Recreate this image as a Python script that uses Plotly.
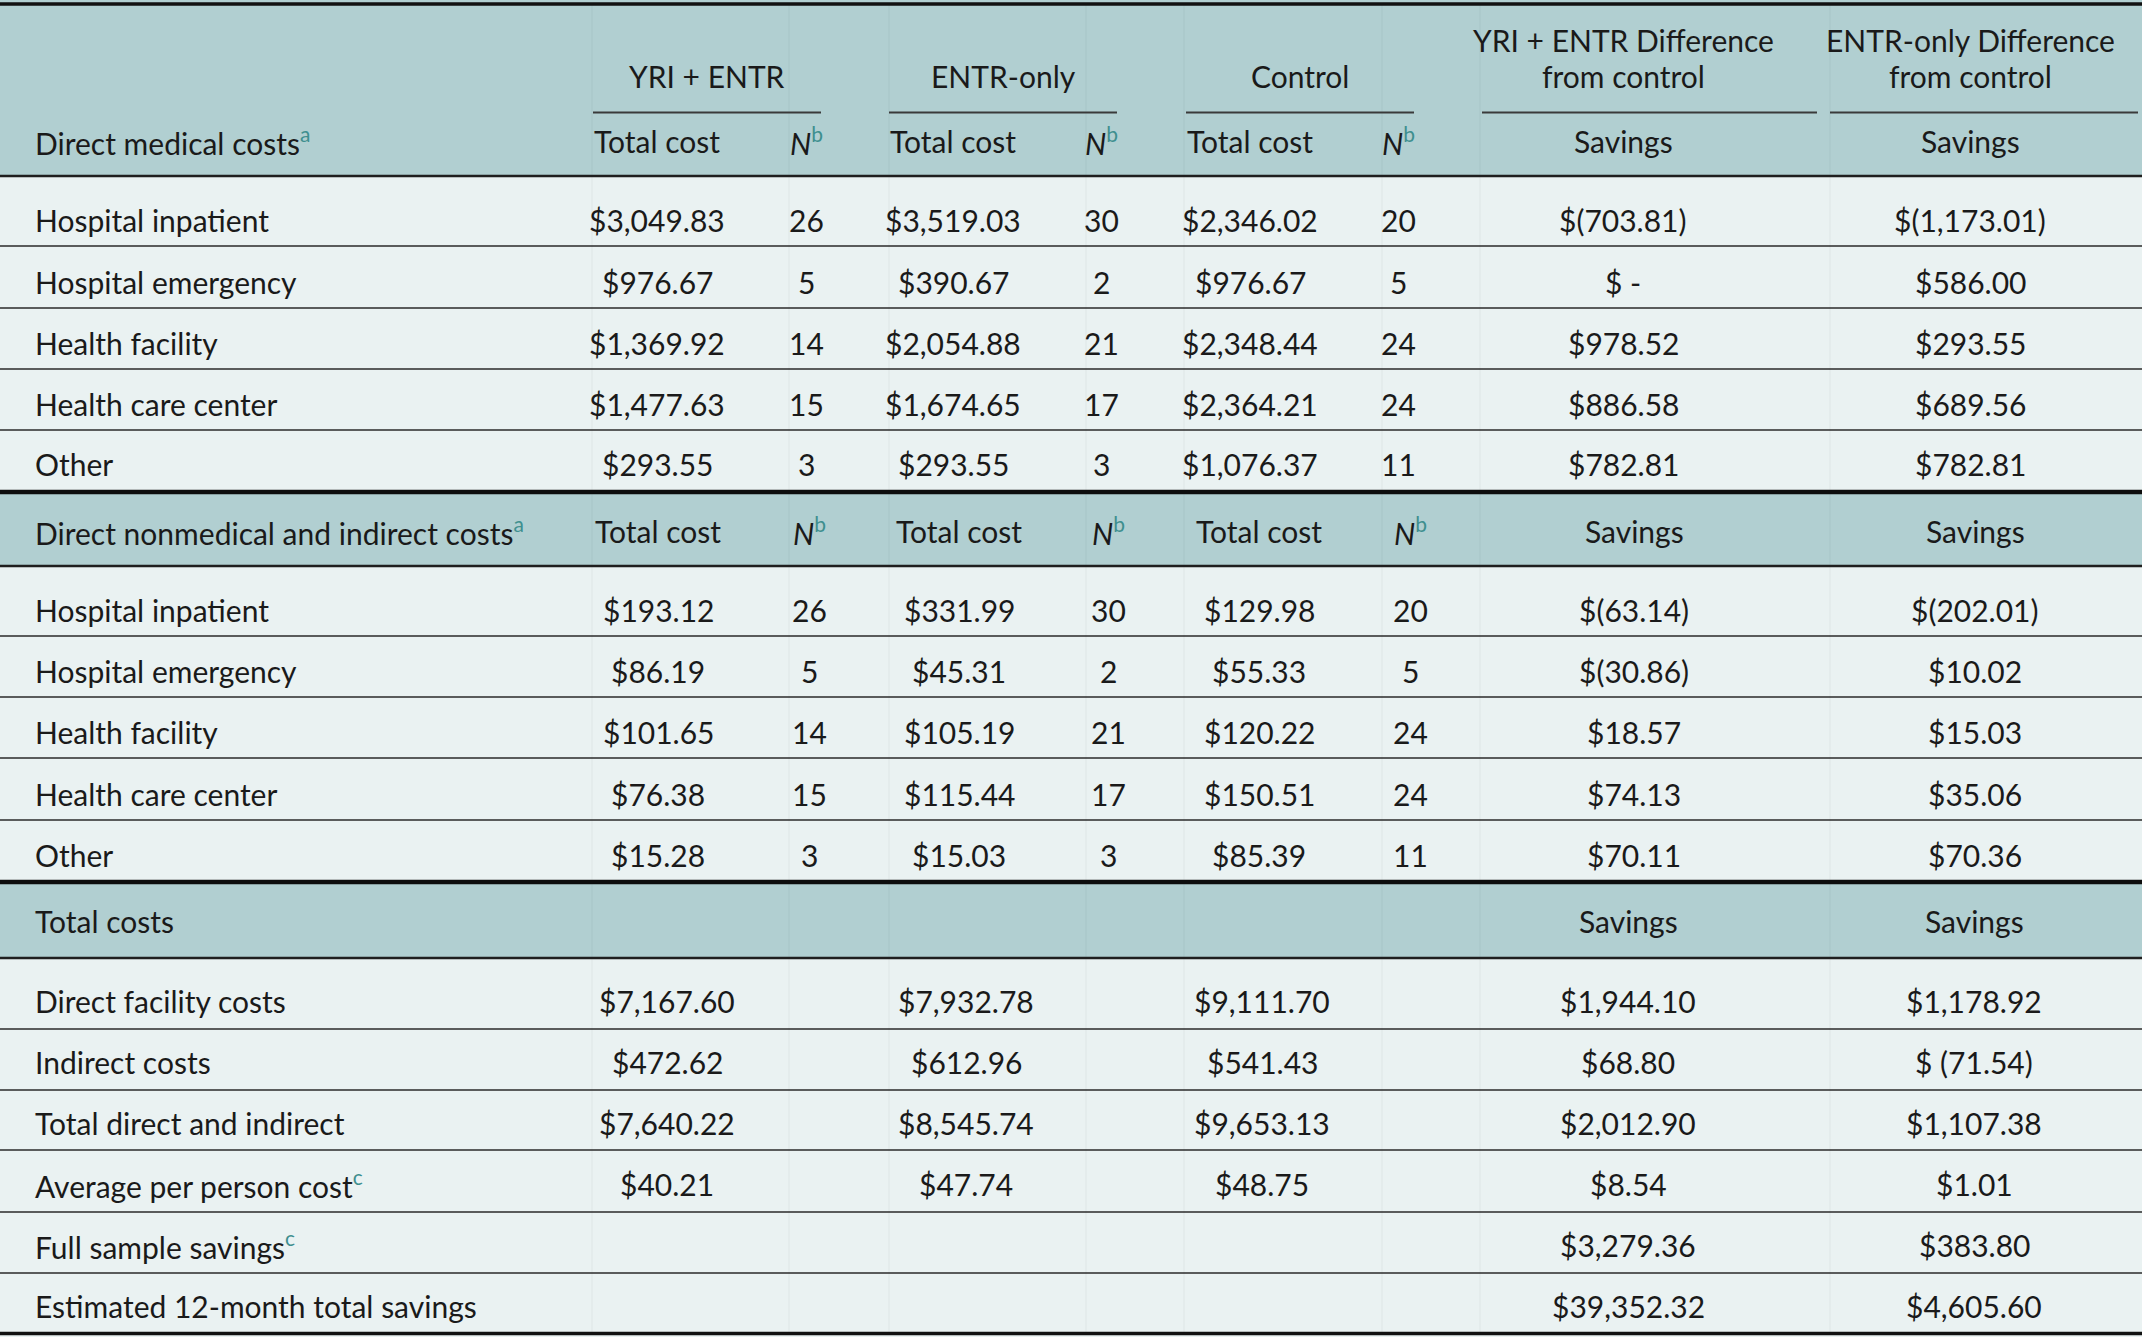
import plotly.graph_objects as go

# ---------------- data ----------------
group_titles = ["YRI + ENTR", "ENTR-only", "Control",
                "YRI + ENTR Difference<br>from control", "ENTR-only Difference<br>from control"]
sec1_title = "Direct medical costs"
sec2_title = "Direct nonmedical and indirect costs"
sec3_title = "Total costs"
sub_cost = "Total cost"
sub_n = "N"
sub_sav = "Savings"

row_labels = ["Hospital inpatient", "Hospital emergency", "Health facility",
              "Health care center", "Other"]

s1_yri_cost = ["$3,049.83", "$976.67", "$1,369.92", "$1,477.63", "$293.55"]
s1_yri_n = [26, 5, 14, 15, 3]
s1_entr_cost = ["$3,519.03", "$390.67", "$2,054.88", "$1,674.65", "$293.55"]
s1_entr_n = [30, 2, 21, 17, 3]
s1_ctrl_cost = ["$2,346.02", "$976.67", "$2,348.44", "$2,364.21", "$1,076.37"]
s1_ctrl_n = [20, 5, 24, 24, 11]
s1_yri_sav = ["$(703.81)", "$ -", "$978.52", "$886.58", "$782.81"]
s1_entr_sav = ["$(1,173.01)", "$586.00", "$293.55", "$689.56", "$782.81"]

s2_yri_cost = ["$193.12", "$86.19", "$101.65", "$76.38", "$15.28"]
s2_yri_n = [26, 5, 14, 15, 3]
s2_entr_cost = ["$331.99", "$45.31", "$105.19", "$115.44", "$15.03"]
s2_entr_n = [30, 2, 21, 17, 3]
s2_ctrl_cost = ["$129.98", "$55.33", "$120.22", "$150.51", "$85.39"]
s2_ctrl_n = [20, 5, 24, 24, 11]
s2_yri_sav = ["$(63.14)", "$(30.86)", "$18.57", "$74.13", "$70.11"]
s2_entr_sav = ["$(202.01)", "$10.02", "$15.03", "$35.06", "$70.36"]

s3_labels = ["Direct facility costs", "Indirect costs", "Total direct and indirect",
             "Average per person cost", "Full sample savings",
             "Estimated 12-month total savings"]
s3_label_sup = ["", "", "", "c", "c", ""]
s3_yri_cost = ["$7,167.60", "$472.62", "$7,640.22", "$40.21", "", ""]
s3_entr_cost = ["$7,932.78", "$612.96", "$8,545.74", "$47.74", "", ""]
s3_ctrl_cost = ["$9,111.70", "$541.43", "$9,653.13", "$48.75", "", ""]
s3_yri_sav = ["$1,944.10", "$68.80", "$2,012.90", "$8.54", "$3,279.36", "$39,352.32"]
s3_entr_sav = ["$1,178.92", "$ (71.54)", "$1,107.38", "$1.01", "$383.80", "$4,605.60"]

# ---------------- style ----------------
W, H = 2142, 1337
HEAD_BG = "#b1cfd1"
BODY_BG = "#eaf2f2"
TXT = "#1a1a1a"
SUP = "#3f8f8f"
FONT = "Lato"
FS = 30

def sup(s):
    return f'<sup style="color:{SUP}">{s}</sup>' if s else ""

N_HDR = f"<i>{sub_n}</i>" + sup("b")

fig = go.Figure()
shapes = []
ann = []

def rect(y0, y1, color):
    shapes.append(dict(type="rect", xref="x", yref="y", x0=0, x1=W, y0=y0, y1=y1,
                       fillcolor=color, line=dict(width=0), layer="below"))

def hline(y, x0=0, x1=W, w=1.5, color="#2a2a2a"):
    shapes.append(dict(type="line", xref="x", yref="y", x0=x0, x1=x1, y0=y, y1=y,
                       line=dict(color=color, width=w)))

def text(x, y, s, anchor="center"):
    if not s:
        return
    ann.append(dict(x=x, y=y, xref="x", yref="y", text=s, showarrow=False,
                    xanchor=anchor, yanchor="middle",
                    font=dict(family=FONT, size=FS, color=TXT)))

LX = 33

# backgrounds
rect(0, 176, HEAD_BG)
rect(176, 492, BODY_BG)
rect(492, 566, HEAD_BG)
rect(566, 882, BODY_BG)
rect(882, 958, HEAD_BG)
rect(958, H, BODY_BG)

# faint column separators
for vx in [592, 789, 889, 1086, 1184, 1382, 1480, 1830]:
    shapes.append(dict(type="line", xref="x", yref="y", x0=vx, x1=vx, y0=4, y1=1333,
                       line=dict(color="rgba(0,0,0,0.03)", width=1.5), layer="below"))

# ---------- header 1 ----------
g_centers = [707, 1003, 1300, 1623, 1970]
g_spans = [(593, 821), (889, 1117), (1186, 1414), (1482, 1817), (1830, 2138)]
for t, cx, (a, b) in zip(group_titles, g_centers, g_spans):
    if "<br>" in t:
        l1, l2 = t.split("<br>")
        text(cx, 40, l1)
        text(cx, 76, l2)
    else:
        text(cx, 76, t)
    hline(112.5, a, b, w=2, color="#3a3a3a")

c1_cost = [657, 953, 1250]
c1_n = [806, 1101, 1398]
c1_sav = [1623, 1970]
text(LX, 141, sec1_title + sup("a"), "left")
for cx in c1_cost:
    text(cx, 141, sub_cost)
for cx in c1_n:
    text(cx, 141, N_HDR)
for cx in c1_sav:
    text(cx, 141, sub_sav)

hline(4, w=3.5, color="#111111")
hline(176, w=2.5, color="#1f1f1f")

# ---------- section 1 ----------
s1_y = [220, 282, 343, 404, 464]
for i, y in enumerate(s1_y):
    text(LX, y, row_labels[i], "left")
    text(c1_cost[0], y, s1_yri_cost[i]); text(c1_n[0], y, str(s1_yri_n[i]))
    text(c1_cost[1], y, s1_entr_cost[i]); text(c1_n[1], y, str(s1_entr_n[i]))
    text(c1_cost[2], y, s1_ctrl_cost[i]); text(c1_n[2], y, str(s1_ctrl_n[i]))
    text(c1_sav[0], y, s1_yri_sav[i]); text(c1_sav[1], y, s1_entr_sav[i])
for y in [246, 308, 369, 430]:
    hline(y)
hline(492, w=4.5, color="#0d0d0d")

# ---------- section 2 ----------
c2_cost = [658, 959, 1259]
c2_n = [809, 1108, 1410]
c2_sav = [1634, 1975]
text(LX, 531, sec2_title + sup("a"), "left")
for cx in c2_cost:
    text(cx, 531, sub_cost)
for cx in c2_n:
    text(cx, 531, N_HDR)
for cx in c2_sav:
    text(cx, 531, sub_sav)
hline(566, w=2.5, color="#1f1f1f")

s2_y = [610, 671, 732, 794, 855]
for i, y in enumerate(s2_y):
    text(LX, y, row_labels[i], "left")
    text(c2_cost[0], y, s2_yri_cost[i]); text(c2_n[0], y, str(s2_yri_n[i]))
    text(c2_cost[1], y, s2_entr_cost[i]); text(c2_n[1], y, str(s2_entr_n[i]))
    text(c2_cost[2], y, s2_ctrl_cost[i]); text(c2_n[2], y, str(s2_ctrl_n[i]))
    text(c2_sav[0], y, s2_yri_sav[i]); text(c2_sav[1], y, s2_entr_sav[i])
for y in [636, 697, 758, 820]:
    hline(y)
hline(882, w=4.5, color="#0d0d0d")

# ---------- section 3 ----------
c3_cost = [667, 966, 1262]
c3_sav = [1628, 1974]
text(LX, 921, sec3_title, "left")
for cx in c3_sav:
    text(cx, 921, sub_sav)
hline(958, w=2.5, color="#1f1f1f")

s3_y = [1001, 1062, 1123, 1184, 1245, 1306]
for i, y in enumerate(s3_y):
    text(LX, y, s3_labels[i] + sup(s3_label_sup[i]), "left")
    text(c3_cost[0], y, s3_yri_cost[i])
    text(c3_cost[1], y, s3_entr_cost[i])
    text(c3_cost[2], y, s3_ctrl_cost[i])
    text(c3_sav[0], y, s3_yri_sav[i])
    text(c3_sav[1], y, s3_entr_sav[i])
for y in [1029, 1090, 1150, 1212, 1273]:
    hline(y)
hline(1333.5, w=3.5, color="#111111")

fig.update_layout(
    width=W, height=H,
    margin=dict(l=0, r=0, t=0, b=0),
    paper_bgcolor="white", plot_bgcolor="white",
    shapes=shapes, annotations=ann,
    xaxis=dict(range=[0, W], visible=False, fixedrange=True),
    yaxis=dict(range=[H, 0], visible=False, fixedrange=True),
    showlegend=False,
)
fig.write_html("out.html", config={"displayModeBar": False},
               post_script="document.body.style.margin='0';document.body.style.overflow='hidden';")
